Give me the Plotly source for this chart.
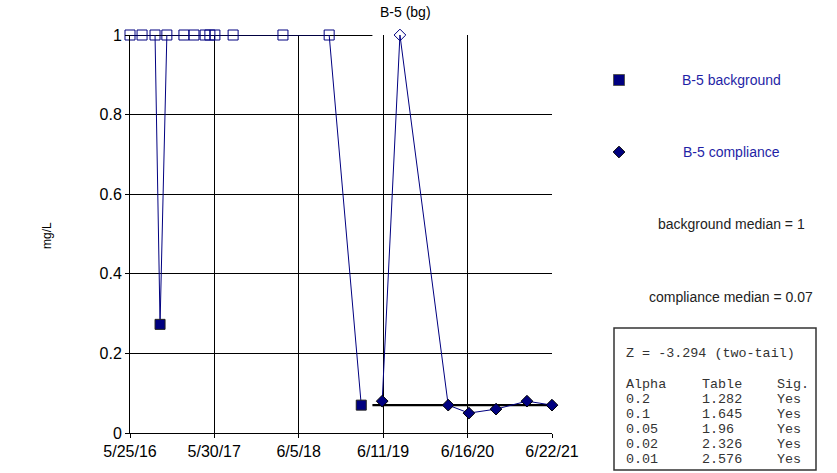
import plotly.graph_objects as go

W, H = 837, 473

# ---------------- data ----------------
bg_dates = ["2016-05-25", "2016-07-17", "2016-09-12", "2016-10-04", "2016-11-03",
            "2017-01-17", "2017-03-02", "2017-04-20", "2017-05-11", "2017-06-02",
            "2017-08-21", "2018-03-28", "2018-10-17", "2019-03-07"]
bg_values = [1, 1, 1, 0.273, 1, 1, 1, 1, 1, 1, 1, 1, 1, 0.07]
bg_detected = [False, False, False, True, False, False, False, False, False, False,
               False, False, False, True]

cp_dates = ["2019-06-07", "2019-08-24", "2020-03-23", "2020-06-22", "2020-10-19",
            "2021-03-04", "2021-06-22"]
cp_values = [0.08, 1, 0.07, 0.05, 0.06, 0.08, 0.07]
cp_detected = [True, False, True, True, True, True, True]

bg_median = 1
cp_median = 0.07
bg_median_span = ["2016-05-25", "2019-04-25"]
cp_median_span = ["2019-04-25", "2021-06-22"]

x_tick_dates = ["2016-05-25", "2017-05-30", "2018-06-05", "2019-06-11", "2020-06-16", "2021-06-22"]
x_tick_labels = ["5/25/16", "5/30/17", "6/5/18", "6/11/19", "6/16/20", "6/22/21"]
y_tick_values = [0, 0.2, 0.4, 0.6, 0.8, 1]
y_tick_labels = ["0", "0.2", "0.4", "0.6", "0.8", "1"]

chart_title = "B-5 (bg)"
y_title = "mg/L"
bg_name = "B-5 background"
cp_name = "B-5 compliance"

z_stat = -3.294
alpha_levels = ["0.2", "0.1", "0.05", "0.02", "0.01"]
table_values = ["1.282", "1.645", "1.96", "2.326", "2.576"]
significant = ["Yes", "Yes", "Yes", "Yes", "Yes"]

# ---------------- style ----------------
NAVY = "#000080"
LEG_BLUE = "#1f1fa6"
TXT = "#222222"
SANS = "Arial, Liberation Sans, sans-serif"
MONO = "Courier New, Liberation Mono, monospace"

# plot area in pixels
PL, PR, PT, PB = 130, 552, 35, 433

fig = go.Figure()

# median lines (under the markers)
fig.add_trace(go.Scatter(x=bg_median_span, y=[bg_median, bg_median], mode="lines",
                         line=dict(color="black", width=2.2), hoverinfo="skip",
                         showlegend=False, cliponaxis=False))
fig.add_trace(go.Scatter(x=cp_median_span, y=[cp_median, cp_median], mode="lines",
                         line=dict(color="black", width=2.2), hoverinfo="skip",
                         showlegend=False, cliponaxis=False))

bg_symbols = ["square" if d else "square-open" for d in bg_detected]
bg_lines = ["#202020" if d else NAVY for d in bg_detected]
fig.add_trace(go.Scatter(
    x=bg_dates, y=bg_values, mode="lines+markers", name=bg_name,
    line=dict(color=NAVY, width=1),
    marker=dict(symbol=bg_symbols, size=10, color=NAVY,
                line=dict(color=bg_lines, width=1)),
    showlegend=False, cliponaxis=False))

cp_symbols = ["diamond" if d else "diamond-open" for d in cp_detected]
cp_lines = ["black" if d else NAVY for d in cp_detected]
fig.add_trace(go.Scatter(
    x=cp_dates, y=cp_values, mode="lines+markers", name=cp_name,
    line=dict(color=NAVY, width=1),
    marker=dict(symbol=cp_symbols, size=9, color=NAVY,
                line=dict(color=cp_lines, width=1)),
    showlegend=False, cliponaxis=False))

# legend markers on an overlay pixel axis
fig.add_trace(go.Scatter(x=[619], y=[80], xaxis="x2", yaxis="y2", mode="markers",
                         marker=dict(symbol="square", size=11, color=NAVY,
                                     line=dict(color="#555555", width=1)),
                         showlegend=False, hoverinfo="skip", cliponaxis=False))
fig.add_trace(go.Scatter(x=[619], y=[152], xaxis="x2", yaxis="y2", mode="markers",
                         marker=dict(symbol="diamond", size=9, color=NAVY,
                                     line=dict(color="black", width=1)),
                         showlegend=False, hoverinfo="skip", cliponaxis=False))

ann = []
def txt(x, y, s, size=14, color=TXT, family=SANS, xanchor="center", angle=0):
    ann.append(dict(x=x, y=y, xref="x2", yref="y2", text=s, showarrow=False,
                    xanchor=xanchor, yanchor="middle", textangle=angle,
                    font=dict(family=family, size=size, color=color)))

txt(405, 12, chart_title, size=14, color="black")
txt(47, 236, y_title, size=12, color="black", angle=-90)
txt(731, 80, bg_name, color=LEG_BLUE)
txt(731, 152, cp_name, color=LEG_BLUE)
txt(731, 224, f"background median = {bg_median}")
txt(731, 297, f"compliance median = {cp_median}")

MS = 13.4
MC = "#333333"
txt(624, 353, f"Z = {z_stat} (two-tail)", size=MS, color=MC, family=MONO, xanchor="left")
txt(624, 384, "Alpha", size=MS, color=MC, family=MONO, xanchor="left")
txt(700, 384, "Table", size=MS, color=MC, family=MONO, xanchor="left")
txt(775, 384, "Sig.", size=MS, color=MC, family=MONO, xanchor="left")
for i, (a, t, s) in enumerate(zip(alpha_levels, table_values, significant)):
    yy = 399 + 15 * i
    txt(624, yy, a, size=MS, color=MC, family=MONO, xanchor="left")
    txt(700, yy, t, size=MS, color=MC, family=MONO, xanchor="left")
    txt(775, yy, s, size=MS, color=MC, family=MONO, xanchor="left")

fig.update_layout(
    width=W, height=H,
    margin=dict(l=0, r=0, t=0, b=0),
    paper_bgcolor="white", plot_bgcolor="rgba(0,0,0,0)",
    showlegend=False,
    annotations=ann,
    shapes=[dict(type="rect", xref="x2", yref="y2", x0=614, x1=816, y0=328, y1=470,
                 line=dict(color="#333333", width=1.5), fillcolor="rgba(0,0,0,0)")],
    xaxis=dict(type="date", range=[x_tick_dates[0], x_tick_dates[-1]],
               domain=[PL / W, PR / W], anchor="y",
               tickmode="array", tickvals=x_tick_dates, ticktext=x_tick_labels,
               showgrid=True, gridcolor="black", gridwidth=1,
               showline=True, linecolor="black", linewidth=1,
               ticks="outside", ticklen=4, tickcolor="black",
               tickfont=dict(family=SANS, size=16, color="black"),
               zeroline=False, automargin=False),
    yaxis=dict(range=[0, 1], domain=[(H - PB) / H, (H - PT) / H], anchor="x",
               tickmode="array", tickvals=y_tick_values, ticktext=y_tick_labels,
               showgrid=True, gridcolor="black", gridwidth=1,
               showline=True, linecolor="black", linewidth=1,
               ticks="outside", ticklen=4, tickcolor="black",
               tickfont=dict(family=SANS, size=16, color="black"),
               zeroline=False, automargin=False),
    xaxis2=dict(domain=[0, 1], range=[0, W], visible=False, anchor="y2",
                fixedrange=True),
    yaxis2=dict(domain=[0, 1], range=[H, 0], visible=False, anchor="x2",
                fixedrange=True),
)

fig.write_html("out.html",
               config={"displayModeBar": False, "staticPlot": True},
               post_script="document.body.style.margin='0px';"
                           "document.body.style.overflow='hidden';")
